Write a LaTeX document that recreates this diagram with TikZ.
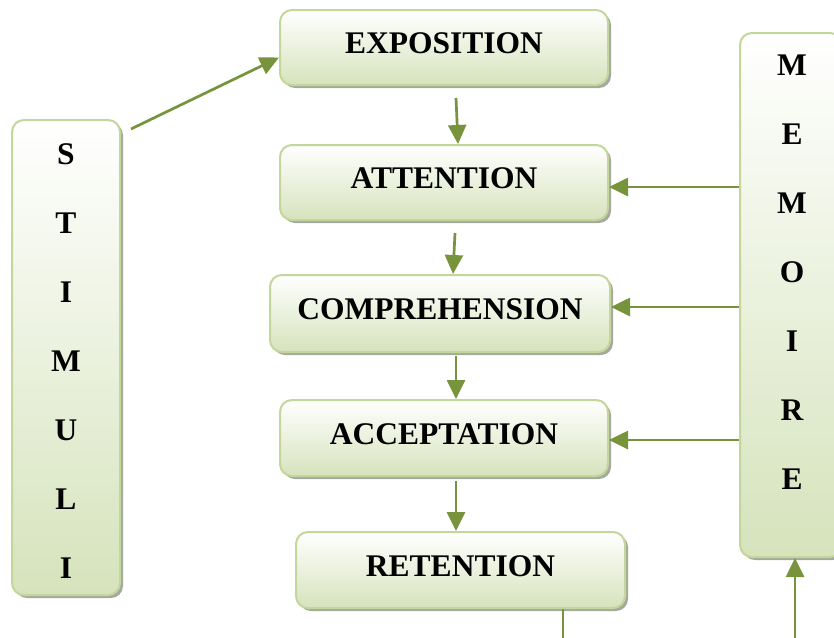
\documentclass[tikz,border=0pt]{standalone}
\usepackage{fontspec}
\setmainfont{Liberation Serif}
\usetikzlibrary{arrows.meta,shadows}
\definecolor{boxline}{HTML}{C3D69B}
\definecolor{boxfill}{HTML}{D6E3BC}
\definecolor{arrowgreen}{HTML}{77933C}
\definecolor{shadowgray}{HTML}{8F9484}
\tikzset{
  flowtip/.tip={Triangle[length=19pt,width=18pt]}
}
\begin{document}
\begin{tikzpicture}[x=1pt,y=-1pt,
  panel/.style={draw=boxline, line width=2pt, rounded corners=12pt,
    top color=white, bottom color=boxfill,
    drop shadow={shadow xshift=3pt, shadow yshift=-3pt, fill=shadowgray, opacity=0.8},
    inner sep=0pt},
  stage/.style={panel, font=\fontsize{31.5}{36}\selectfont\bfseries, text depth=8pt},
  column/.style={font=\fontsize{31.5}{69}\selectfont\bfseries, align=center, inner sep=0pt},
  arr/.style={draw=arrowgreen, line width=2.7pt, -flowtip},
  link/.style={draw=arrowgreen, line width=2.7pt}]
\useasboundingbox (0,0) rectangle (834,637);

% side panels
\node[panel, minimum width=108pt, minimum height=475pt] (stim) at (66,357.5) {};
\node[column] (stimtxt) at (66,361.5) {S\\T\\I\\M\\U\\L\\I};
\node[panel, minimum width=102pt, minimum height=524pt] (mem) at (791,295) {};
\node[column] (memtxt) at (792,272) {M\\E\\M\\O\\I\\R\\E};

% stages
\node[stage, minimum width=328pt, minimum height=75pt] (expo) at (444,47.5) {EXPOSITION};
\node[stage, minimum width=328pt, minimum height=75pt] (att) at (444,182.5) {ATTENTION};
\node[stage, minimum width=340pt, minimum height=77pt] (comp) at (440,313.5) {COMPREHENSION};
\node[stage, minimum width=328pt, minimum height=76pt] (acc) at (444,438) {ACCEPTATION};
\node[stage, minimum width=329pt, minimum height=76pt] (ret) at (460.5,570) {RETENTION};

% free ends below the picture
\coordinate (retout) at (563,645);
\coordinate (memin) at (795,645);

% connectors
\draw[arr] ([xshift=10pt,yshift=-10pt]stim.north east) -- ([yshift=-10pt]expo.west);
\draw[arr] ([xshift=12pt,yshift=-12pt]expo.south) -- ([xshift=14pt]att.north);
\draw[arr] ([xshift=11pt,yshift=-12pt]att.south) -- ([xshift=13pt]comp.north);
\draw[arr] ([xshift=16pt,yshift=-3pt]comp.south) -- ([xshift=12pt]acc.north);
\draw[arr] ([xshift=12pt,yshift=-4pt]acc.south) -- ([xshift=-4.5pt]ret.north);
\draw[arr] ([yshift=-4.5pt]mem.west |- att.east) -- ([yshift=-4.5pt]att.east);
\draw[arr] ([yshift=6.5pt]mem.west |- comp.east) -- ([yshift=6.5pt]comp.east);
\draw[arr] ([yshift=-2pt]mem.west |- acc.east) -- ([yshift=-2pt]acc.east);
\draw[link] (ret.south -| retout) -- (retout);
\draw[arr] (memin) -- (memin |- mem.south);
\end{tikzpicture}
\end{document}
